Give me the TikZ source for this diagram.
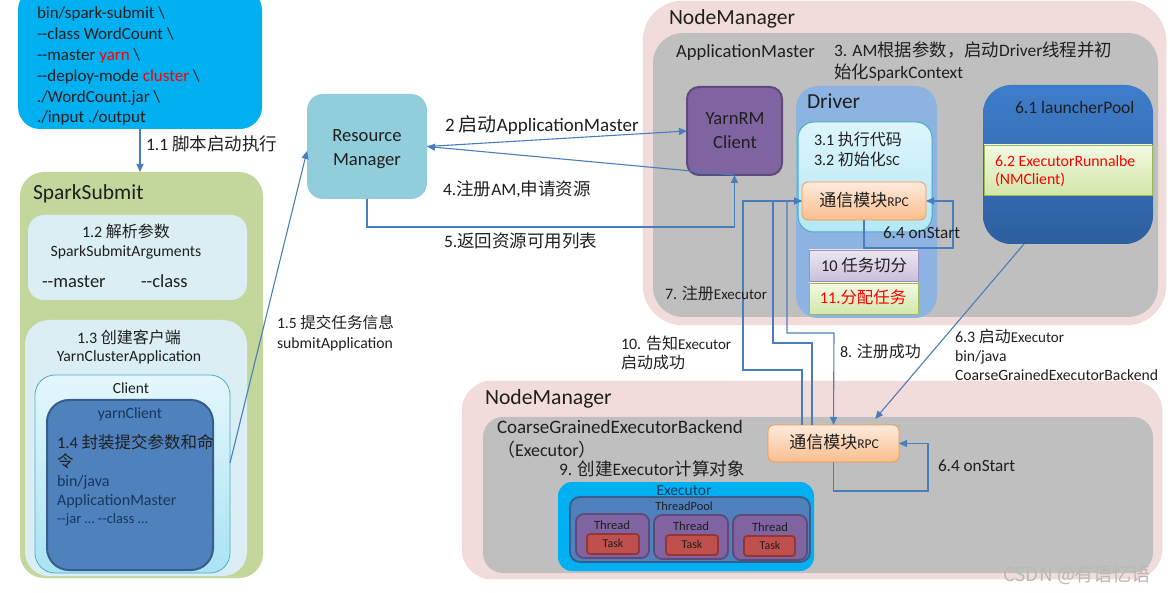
\documentclass[tikz,border=0pt]{standalone}
\usepackage{fontspec}
\setmainfont{Carlito}
\newfontfamily\cjk{Noto Sans CJK SC}
\usetikzlibrary{arrows.meta,calc}
\newcommand\zh[1]{{\cjk #1}}
\newcommand\dd{\mbox{-}\mbox{-}}
\definecolor{cmdcyan}{HTML}{00B0F0}
\definecolor{olivebg}{HTML}{C3D69B}
\definecolor{paleaqua}{HTML}{DBEEF3}
\definecolor{clienttop}{HTML}{E4F7FC}
\definecolor{clientbot}{HTML}{A9E3F3}
\definecolor{clientbd}{HTML}{4BACC6}
\definecolor{acblue}{HTML}{4F81BD}
\definecolor{acbluedk}{HTML}{385D8A}
\definecolor{rmfill}{HTML}{92CDDC}
\definecolor{pinkbg}{HTML}{F2DCDB}
\definecolor{pinkbd}{HTML}{EDD2D1}
\definecolor{graybg}{HTML}{BFBFBF}
\definecolor{purp}{HTML}{8064A2}
\definecolor{purpdk}{HTML}{5F497A}
\definecolor{drv}{HTML}{8DB3E2}
\definecolor{sctop}{HTML}{DDF5FC}
\definecolor{scbot}{HTML}{B5E7F6}
\definecolor{orgtop}{HTML}{FEEBDC}
\definecolor{orgbot}{HTML}{F9BE8D}
\definecolor{orgbd}{HTML}{F79646}
\definecolor{lavtop}{HTML}{ECE7F2}
\definecolor{lavbot}{HTML}{CBBFDA}
\definecolor{lavbd}{HTML}{9F8DBE}
\definecolor{grtop}{HTML}{F3F9E3}
\definecolor{grbot}{HTML}{D3E7A9}
\definecolor{grbd}{HTML}{9BBB59}
\definecolor{lptop}{HTML}{3E7DCA}
\definecolor{lpbot}{HTML}{2D5F9F}
\definecolor{taskred}{HTML}{C0504D}
\definecolor{taskbd}{HTML}{943634}
\definecolor{lineblue}{HTML}{4A7EBB}
\definecolor{txt}{HTML}{1F1F1F}
\definecolor{navy}{HTML}{17375E}
\definecolor{wmgray}{HTML}{B8B8B8}
\newcommand\lab[6][base west]{\node[anchor=#1, font=\fontsize{#5}{#5}\selectfont, text=txt, inner sep=0pt, outer sep=0pt] (#2) at (#3,{#4+0.33*#5}) {#6};}
\newcommand\fsz[2]{{\fontsize{#1}{#1}\selectfont #2}}
\begin{document}
\begin{tikzpicture}[x=1pt,y=-1pt,
  box/.style={rectangle, anchor=north west, inner sep=0pt, outer sep=0pt},
  conn/.style={draw=lineblue, line width=1.1pt},
  arr/.style={conn, -{Triangle[length=8pt,width=7pt]}},
]
\useasboundingbox (0,0) rectangle (1170,593);
% ---------- boxes ----------
\node[box, minimum width=244, minimum height=141, fill=cmdcyan, rounded corners=22] (cmd) at (18,-12) {};
\node[box, minimum width=243, minimum height=406, fill=olivebg, rounded corners=24] (spark) at (20,172) {};
\node[box, minimum width=219, minimum height=85, fill=paleaqua, rounded corners=16] (args) at (28,215) {};
\node[box, minimum width=222, minimum height=256, fill=paleaqua, rounded corners=24] (ycabox) at (25,320) {};
\node[box, minimum width=195, minimum height=198, top color=clienttop, bottom color=clientbot, draw=clientbd, line width=0.8pt, rounded corners=20] (client) at (35,375) {};
\node[box, minimum width=166, minimum height=170, fill=acblue, draw=acbluedk, line width=2pt, rounded corners=22] (yclient) at (47,400) {};
\node[box, minimum width=120, minimum height=105, fill=rmfill, rounded corners=16] (rm) at (307,94) {};
% upper NodeManager
\node[box, minimum width=523, minimum height=324, fill=pinkbg, draw=pinkbd, rounded corners=40] (nm1) at (643,1) {};
\node[box, minimum width=505, minimum height=284, fill=graybg, rounded corners=30] (am) at (653,33) {};
\node[box, minimum width=95, minimum height=88, fill=purp, draw=purpdk, line width=2pt, rounded corners=12] (yarnrm) at (687,87) {};
\node[box, minimum width=141, minimum height=232, fill=drv, rounded corners=22] (driver) at (796,86) {};
\node[box, minimum width=134, minimum height=110, top color=sctop, bottom color=scbot, draw=clientbd, line width=1pt, rounded corners=16] (scbox) at (798,122) {};
\node[box, minimum width=124, minimum height=38, top color=orgtop, bottom color=orgbot, draw=orgbd, line width=0.8pt, rounded corners=6] (rpc1) at (802,182) {};
\node[box, minimum width=109, minimum height=31, top color=lavtop, bottom color=lavbot, draw=lavbd, line width=0.8pt] (tsplit) at (809,250) {};
\node[box, minimum width=109, minimum height=31, top color=grtop, bottom color=grbot, draw=grbd, line width=0.8pt] (tassign) at (809,283) {};
\node[box, minimum width=170, minimum height=159, top color=lptop, bottom color=lpbot, rounded corners=28] (launcher) at (983,85) {};
\node[box, minimum width=168, minimum height=50, top color=grtop, bottom color=grbot, draw=grbd, line width=0.8pt] (runbox) at (984,145) {};
% lower NodeManager
\node[box, minimum width=700, minimum height=198, fill=pinkbg, draw=pinkbd, rounded corners=30] (nm2) at (462,381) {};
\node[box, minimum width=670, minimum height=156, fill=graybg, rounded corners=20] (ceb) at (483,417) {};
\node[box, minimum width=131, minimum height=37, top color=orgtop, bottom color=orgbot, draw=orgbd, line width=0.8pt, rounded corners=6] (rpc2) at (768,425) {};
\node[box, minimum width=256, minimum height=89, fill=cmdcyan, rounded corners=14] (exec) at (558,482) {};
\node[box, minimum width=240, minimum height=65, fill=acblue, draw=acbluedk, line width=1.8pt, rounded corners=10] (tpool) at (570,497) {};
\node[box, minimum width=73, minimum height=44, fill=purp, draw=purpdk, line width=1.8pt, rounded corners=8] (th1) at (576,514) {};
\node[box, minimum width=74, minimum height=44, fill=purp, draw=purpdk, line width=1.8pt, rounded corners=8] (th2) at (654,515) {};
\node[box, minimum width=74, minimum height=45, fill=purp, draw=purpdk, line width=1.8pt, rounded corners=8] (th3) at (733,515) {};
\node[box, minimum width=52, minimum height=20, fill=taskred, draw=taskbd, line width=1.8pt, rounded corners=3] (tk1) at (587,534) {};
\node[box, minimum width=52, minimum height=20, fill=taskred, draw=taskbd, line width=1.8pt, rounded corners=3] (tk2) at (666,535) {};
\node[box, minimum width=51, minimum height=20, fill=taskred, draw=taskbd, line width=1.8pt, rounded corners=3] (tk3) at (744,536) {};
% ---------- connectors ----------
\draw[arr] (cmd.south) -- (cmd.south |- spark.north);
\draw[arr] (client.east |- 0,463) -- (rm.west |- 0,151);
\draw[arr] (rm.east) -- (yarnrm.west);
\draw[arr] (yarnrm.south) -- (rm.east);
\draw[arr] (rm.south) -- (rm.south |- 0,227) -- (yarnrm.south |- 0,227) -- (yarnrm.south);
\draw[arr] (rpc2.north -| 802,0) |- (743,370) |- (rpc1.west);
\draw[arr] (rpc2.north -| 812,0) |- (773,343) |- (rpc1.west);
\draw[arr] (rpc1.west -| 787,0) |- (834,333) -- (rpc2.north);
\draw[arr, shorten >=8pt] (launcher.south -| 1024,0) -- (rpc2.north -| 870,0);
\draw[arr] (rpc1.south -| 864,0) -- (864,248) -| (953,201) -- (rpc1.east);
\draw[arr] (rpc2.south) -- (rpc2.south |- 0,491) -| (928,443.5) -- (rpc2.east);
% ---------- labels ----------
\lab{lbc1}{37}{13}{17}{bin/spark-submit \textbackslash}
\lab{lbc2}{37}{34}{17}{\dd class WordCount \textbackslash}
\lab{lbc3}{37}{55}{17}{\dd master \textcolor{red}{yarn} \textbackslash}
\lab{lbc4}{37}{76}{17}{\dd deploy-mode \textcolor{red}{cluster} \textbackslash}
\lab{lbc5}{37}{97}{17}{./WordCount.jar \textbackslash}
\lab{lbc6}{37}{117}{17}{./input ./output}
\lab{lb11}{146}{145}{17.5}{1.1 \zh{脚本启动执行}}
\lab{lbss}{33}{192}{21.5}{SparkSubmit}
\lab[base]{lb12}{126}{232}{16}{1.2 \zh{解析参数}}
\lab[base]{lbssa}{126}{251}{15.7}{SparkSubmitArguments}
\lab{lbmst}{42}{281}{18.5}{\dd master}
\lab{lbcls}{141}{281}{18.5}{\dd class}
\lab[base]{lb13}{129}{338}{16}{1.3 \zh{创建客户端}}
\lab[base]{lbyca}{129}{356}{15.7}{YarnClusterApplication}
\lab[base]{lbcli}{131}{388}{15.5}{Client}
\lab[base]{lbycl}{130}{413}{15.6}{\color{navy}yarnClient}
\lab{lb14a}{57}{443}{16.5}{1.4 \zh{封装提交参数和命}}
\lab{lb14b}{57}{462}{16.5}{\zh{令}}
\lab{lbbj1}{57}{481}{16}{\color{navy}bin/java}
\lab{lbam1}{57}{500}{16}{\color{navy}ApplicationMaster}
\lab{lbjar}{57}{519}{14.5}{\color{navy}\dd jar … \dd class …}
\lab[base]{lbrm1}{367}{135}{18.6}{Resource}
\lab[base]{lbrm2}{367}{159}{18.6}{Manager}
\lab{lb2}{445}{125}{19}{2 \zh{启动}ApplicationMaster}
\lab{lb4}{443}{190}{17.5}{4.\zh{注册}AM,\zh{申请资源}}
\lab{lb5}{444}{242}{17.5}{5.\zh{返回资源可用列表}}
\lab{lb15a}{277}{323}{15.6}{1.5 \zh{提交任务信息}}
\lab{lb15b}{277}{343}{15.7}{submitApplication}
\lab{lbnm1}{669}{17}{21.6}{NodeManager}
\lab{lbamt}{676}{51}{18.6}{ApplicationMaster}
\lab{lb3a}{834}{51}{17.4}{3. AM\zh{根据参数，启动}Driver\zh{线程并初}}
\lab{lb3b}{834}{73}{17.4}{\zh{始化}SparkContext}
\lab[base]{lbyr1}{735}{118}{18.6}{YarnRM}
\lab[base]{lbyr2}{735}{142}{18.6}{Client}
\lab{lbdrv}{807}{101}{21.4}{Driver}
\lab{lb31}{814}{140}{16}{3.1 \zh{执行代码}}
\lab{lb32}{814}{160}{16}{3.2 \zh{初始化}\fsz{14}{SC}}
\lab[base]{lbrpc1}{864}{201}{17}{\zh{通信模块}\fsz{13.5}{RPC}}
\lab{lb64a}{883}{233}{17.2}{6.4 onStart}
\lab[base]{lb10}{864}{266}{16.4}{10 \zh{任务切分}}
\lab[base]{lb11b}{863}{298}{16.4}{\color{red}11.\zh{分配任务}}
\lab{lb61}{1015}{108}{17.5}{6.1 launcherPool}
\lab{lb62a}{995}{161}{15.8}{\color{red}6.2 ExecutorRunnalbe}
\lab{lb62b}{995}{179}{15.8}{\color{red}(NMClient)}
\lab{lb7}{665}{294}{16}{7. \zh{注册}\fsz{15}{Executor}}
\lab{lb10a}{621}{344}{16}{10. \zh{告知}\fsz{15}{Executor}}
\lab{lb10b}{621}{363}{16}{\zh{启动成功}}
\lab{lb8}{840}{352}{16}{8. \zh{注册成功}}
\lab{lb63a}{955}{337}{16}{6.3 \zh{启动}\fsz{15}{Executor}}
\lab{lb63b}{955}{356}{15.7}{bin/java}
\lab{lb63c}{955}{375}{15.7}{CoarseGrainedExecutorBackend}
\lab{lbnm2}{485}{397}{21.7}{NodeManager}
\lab{lbcgb}{497}{427}{19}{CoarseGrainedExecutorBackend}
\lab{lbcgx}{497}{451}{18}{\zh{（}Executor\zh{）}}
\lab{lb9}{559}{470}{17.5}{9. \zh{创建}Executor\zh{计算对象}}
\lab[base]{lbrpc2}{834}{443}{17}{\zh{通信模块}\fsz{13.5}{RPC}}
\lab{lb64b}{938}{466}{17.2}{6.4 onStart}
\lab[base]{lbext}{684}{490}{15.5}{\color{navy}Executor}
\lab[base]{lbtpt}{684}{506}{12.4}{ThreadPool}
\lab[base]{lbth1}{612}{525}{12.6}{Thread}
\lab[base]{lbth2}{691}{526}{12.6}{Thread}
\lab[base]{lbth3}{770}{527}{12.6}{Thread}
\lab[base]{lbtk1}{613}{544}{12}{Task}
\lab[base]{lbtk2}{692}{545}{12}{Task}
\lab[base]{lbtk3}{770}{546}{12}{Task}
\lab{lbwm}{1003}{575}{19}{\color{wmgray}\cjk CSDN @有语忆语}
\end{tikzpicture}
\end{document}
